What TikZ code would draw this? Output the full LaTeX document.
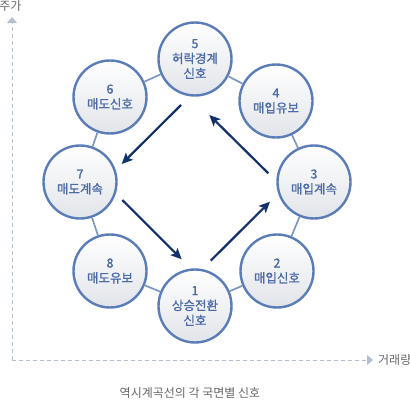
\documentclass[tikz,border=0pt]{standalone}
\usepackage{fontspec}
\setmainfont{Noto Sans CJK KR}
\newfontfamily\phasefont[FakeBold=1.2]{Noto Sans CJK KR}
\usetikzlibrary{arrows.meta}
\definecolor{ringblue}{HTML}{5A7CB7}
\definecolor{ringline}{HTML}{7C96C2}
\definecolor{textblue}{HTML}{4B6AA6}
\definecolor{fillgray}{HTML}{E1E4E9}
\definecolor{navy}{HTML}{12306A}
\definecolor{axisgray}{HTML}{B3BFCF}
\definecolor{labelgray}{HTML}{666666}

\begin{document}
\begin{tikzpicture}[x=1pt,y=-1pt,
    phase/.style={circle,draw=ringblue,line width=2.4pt,minimum size=73pt,inner sep=0pt,
        top color=white,bottom color=fillgray,text=textblue,align=center,
        font=\phasefont\fontsize{12.5}{15}\selectfont},
    ring/.style={draw=ringline,line width=1.7pt},
    flow/.style={draw=navy,line width=2.2pt,-{Stealth[length=11pt,width=10pt,inset=2.5pt]}},
    axis/.style={draw=axisgray,line width=1pt,dash pattern=on 4pt off 3pt,
        -{Triangle[length=6pt,width=10pt]}},
    lbl/.style={text=labelgray,font=\fontsize{12}{14}\selectfont,inner sep=0pt}]
        \useasboundingbox (0,0) rectangle (410,401);

        % axes
        \coordinate (o) at (12,360);
        \coordinate (ytop) at (12,17);
        \coordinate (xend) at (373,360);
        \draw[axis] (o) -- (ytop);
        \draw[axis] (o) -- (xend);
        \node[lbl] (price) at (10.5,6) {주가};
        \node[lbl,anchor=west] (volume) at (378,360) {거래량};

        % eight phases
        \node[phase] (n1) at (195,306) {1\\상승전환\\신호};
        \node[phase] (n2) at (277,271) {2\\매입신호};
        \node[phase] (n3) at (314,182) {3\\매입계속};
        \node[phase] (n4) at (276,101) {4\\매입유보};
        \node[phase] (n5) at (195,59) {5\\허락경계\\신호};
        \node[phase] (n6) at (110,97) {6\\매도신호};
        \node[phase] (n7) at (80,182) {7\\매도계속};
        \node[phase] (n8) at (110,271) {8\\매도유보};

        \draw[ring] (n1) -- (n2);
        \draw[ring] (n2) -- (n3);
        \draw[ring] (n3) -- (n4);
        \draw[ring] (n4) -- (n5);
        \draw[ring] (n5) -- (n6);
        \draw[ring] (n6) -- (n7);
        \draw[ring] (n7) -- (n8);
        \draw[ring] (n8) -- (n1);

        % cycle arrows
        \coordinate (a) at (181,105);
        \coordinate (b) at (121.7,164);
        \coordinate (c) at (122.3,200);
        \coordinate (d) at (181.7,259.3);
        \coordinate (e) at (210.7,260.7);
        \coordinate (f) at (270,201.7);
        \coordinate (g) at (268.3,173.3);
        \coordinate (h) at (209.3,115);
        \draw[flow] (a) -- (b);
        \draw[flow] (c) -- (d);
        \draw[flow] (e) -- (f);
        \draw[flow] (g) -- (h);

        \node[lbl] (caption) at (190,393) {역시계곡선의 각 국면별 신호};
\end{tikzpicture}
\end{document}
